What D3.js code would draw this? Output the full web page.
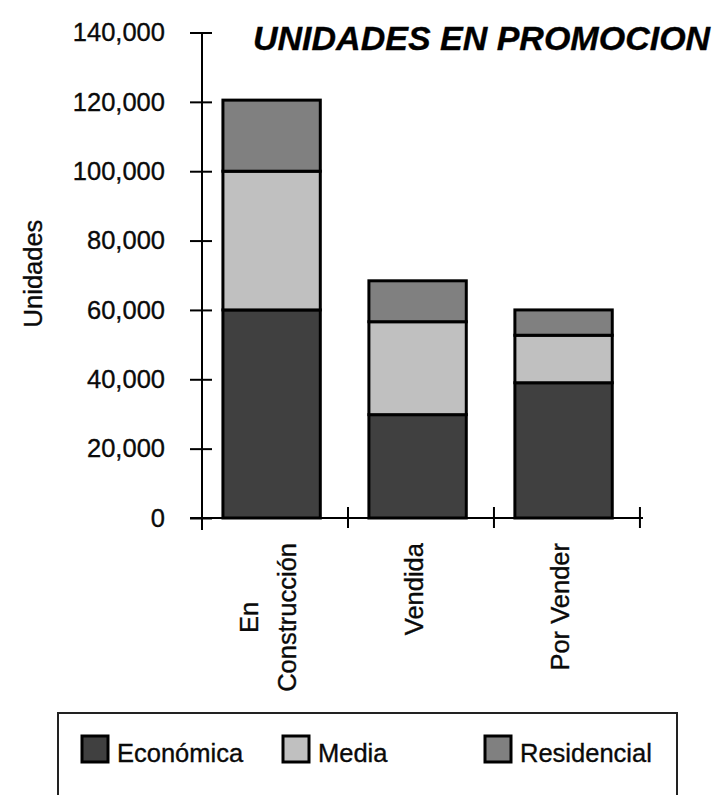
<!DOCTYPE html>
<html>
<head>
<meta charset="utf-8">
<script src="https://cdn.jsdelivr.net/npm/d3@7"></script>
<style>
  body { margin: 0; background: #fff; }
  svg { display: block; }
  text { font-family: "Liberation Sans", Arial, Helvetica, sans-serif; fill: #0a0a0a; stroke: #0a0a0a; stroke-width: 0.35px; }
</style>
</head>
<body>
<svg id="chart" width="716" height="795"></svg>
<script>
// Category labels (one entry per line of each label)
const categories = [["En", "Construcción"], ["Vendida"], ["Por Vender"]];
const seriesNames = ["Económica", "Media", "Residencial"];
const economica   = [60000, 29800, 39000];
const media       = [40000, 26800, 13700];
const residencial = [20500, 11800, 7300];
const yTicks = [0, 20000, 40000, 60000, 80000, 100000, 120000, 140000];
const seriesColors = ["#404040", "#c0c0c0", "#808080"];

const catKeys = categories.map(c => c.join(" "));
const rows = catKeys.map((k, i) => ({
  cat: k,
  "Económica": economica[i],
  "Media": media[i],
  "Residencial": residencial[i]
}));

const svg = d3.select("#chart");
const FONT = 25.5;

const x = d3.scaleBand()
  .domain(catKeys)
  .range([202, 640])
  .paddingInner(0.333)
  .paddingOuter(0.1667)
  .align(0.43);

const y = d3.scaleLinear()
  .domain([0, 140000])
  .range([518, 32.5]);

const color = d3.scaleOrdinal().domain(seriesNames).range(seriesColors);

// Title
svg.append("text")
  .attr("x", 253)
  .attr("y", 50)
  .style("font-size", "34px")
  .style("font-weight", "bold")
  .style("font-style", "italic")
  .style("fill", "#000")
  .text("UNIDADES EN PROMOCION");

// Stacked bars
const stacked = d3.stack().keys(seriesNames)(rows);
svg.append("g")
  .selectAll("g")
  .data(stacked)
  .join("g")
  .attr("fill", d => color(d.key))
  .selectAll("rect")
  .data(d => d)
  .join("rect")
  .attr("x", d => x(d.data.cat))
  .attr("width", x.bandwidth())
  .attr("y", d => y(d[1]))
  .attr("height", d => y(d[0]) - y(d[1]))
  .attr("stroke", "#000")
  .attr("stroke-width", 3);

// Y axis with ticks crossing the axis line
const yAxis = svg.append("g")
  .attr("transform", "translate(202,0)")
  .call(d3.axisLeft(y)
    .tickValues(yTicks)
    .tickFormat(d3.format(","))
    .tickSize(12)
    .tickPadding(25));
yAxis.select(".domain").remove();
yAxis.selectAll(".tick line")
  .attr("x1", 10)
  .attr("stroke", "#000")
  .attr("stroke-width", 2);
yAxis.selectAll(".tick text")
  .style("font-size", FONT + "px")
  .style("font-family", "\"Liberation Sans\", Arial, sans-serif")
  .attr("fill", "#0a0a0a");
svg.append("line")
  .attr("x1", 202).attr("x2", 202)
  .attr("y1", y(140000)).attr("y2", y(0) + 12)
  .attr("stroke", "#000").attr("stroke-width", 2);

// X axis line and category separators
svg.append("line")
  .attr("x1", 190).attr("x2", 643)
  .attr("y1", y(0)).attr("y2", y(0))
  .attr("stroke", "#000").attr("stroke-width", 2);
const x0 = x.range()[0];
svg.append("g")
  .selectAll("line")
  .data(d3.range(catKeys.length + 1))
  .join("line")
  .attr("x1", i => x0 + i * x.step())
  .attr("x2", i => x0 + i * x.step())
  .attr("y1", y(0) - 11)
  .attr("y2", y(0) + 10)
  .attr("stroke", "#000")
  .attr("stroke-width", 2);

// Rotated category labels, lines centred within each label block
const labelTop = y(0) + 25;
const lineGap = 38;
categories.forEach((lines, i) => {
  const cx = x0 + (i + 0.5) * x.step() + 2;
  const g = svg.append("g");
  const texts = lines.map(line => g.append("text")
    .style("font-size", FONT + "px")
    .attr("text-anchor", "middle")
    .text(line));
  const maxLen = d3.max(texts, t => t.node().getComputedTextLength());
  const cy = labelTop + maxLen / 2;
  texts.forEach((t, j) => {
    const bx = cx + (j - (lines.length - 1) / 2) * lineGap;
    t.attr("transform", `translate(${bx},${cy}) rotate(-90)`);
  });
});

// Y axis title
svg.append("text")
  .attr("transform", "translate(42,273.5) rotate(-90)")
  .attr("text-anchor", "middle")
  .style("font-size", FONT + "px")
  .text("Unidades");

// Legend
svg.append("rect")
  .attr("x", 58).attr("y", 713)
  .attr("width", 619).attr("height", 140)
  .attr("fill", "none")
  .attr("stroke", "#222")
  .attr("stroke-width", 2);

const legendX = [82, 283, 485];
const legend = svg.append("g")
  .selectAll("g")
  .data(seriesNames)
  .join("g")
  .attr("transform", (d, i) => `translate(${legendX[i]},736)`);
legend.append("rect")
  .attr("width", 26).attr("height", 26)
  .attr("fill", d => color(d))
  .attr("stroke", "#000")
  .attr("stroke-width", 3);
legend.append("text")
  .attr("x", 35)
  .attr("y", 26)
  .style("font-size", FONT + "px")
  .text(d => d);
</script>
</body>
</html>
